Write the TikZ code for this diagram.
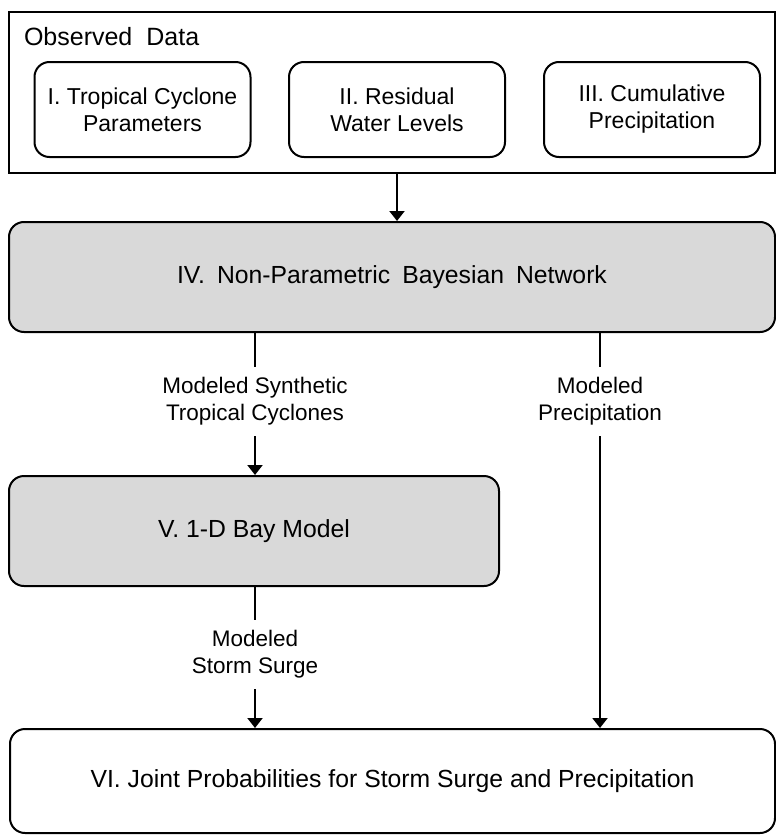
\documentclass[tikz,border=0pt]{standalone}
\usepackage{fontspec}
\setmainfont{Liberation Sans}
\definecolor{boxgray}{RGB}{217,217,217}
\usepackage{tikz}
\usetikzlibrary{arrows.meta,positioning,calc}

\begin{document}
\begin{tikzpicture}[x=1pt,y=-1pt,
    line width=2pt,
    stagebox/.style={draw=black, rounded corners=15pt, align=center,
                     font=\fontsize{24.75}{30}\selectfont},
    databox/.style={stagebox, minimum width=216pt, minimum height=95pt,
                    font=\fontsize{23}{27}\selectfont},
    flowlabel/.style={align=center, inner sep=10pt,
                      font=\fontsize{22.5}{27}\selectfont},
    arr/.style={-{Triangle[width=15pt,length=10pt]}}]
    \useasboundingbox (0,0) rectangle (776,835);

    % observed data
    \node[draw=black, minimum width=766pt, minimum height=161pt] (obs) at (392,92.5) {};
    \node[anchor=base west, inner sep=0pt, font=\fontsize{25}{30}\selectfont] (obstitle) at (23,45)
      {\spaceskip=14pt Observed Data};
    \node[databox] (tcpar) at (142.5,109.5) {I. Tropical Cyclone\\Parameters};
    \node[databox] (resid) at (397,109.5) {II. Residual\\Water Levels};
    \node[databox] (cumpr) at (652,109.5) {III. Cumulative\\Precipitation};

    % model chain
    \node[stagebox, fill=boxgray, minimum width=766pt, minimum height=110pt] (npbn) at (392,277)
      {\spaceskip=12pt IV. Non-Parametric Bayesian Network};
    \node[stagebox, fill=boxgray, minimum width=490pt, minimum height=110pt] (baymod) at (254,531)
      {V. 1-D Bay Model};
    \node[stagebox, minimum width=765pt, minimum height=104pt] (joint) at (392.5,781)
      {VI. Joint Probabilities for Storm Surge and Precipitation};

    % connector labels
    \node[flowlabel] (lbltc) at (255,401.5) {Modeled Synthetic\\Tropical Cyclones};
    \node[flowlabel] (lblpr) at (600,401.5) {Modeled\\Precipitation};
    \node[flowlabel] (lblss) at (255,654.5) {Modeled\\Storm Surge};

    \draw[arr] (obs.south -| resid) -- (npbn.north -| resid);
    \draw (npbn.south -| lbltc) -- (lbltc.north);
    \draw[arr] (lbltc.south) -- (baymod.north -| lbltc);
    \draw (baymod.south -| lblss) -- (lblss.north);
    \draw[arr] (lblss.south) -- (joint.north -| lblss);
    \draw (npbn.south -| lblpr) -- (lblpr.north);
    \draw[arr] (lblpr.south) -- (joint.north -| lblpr);
\end{tikzpicture}
\end{document}
